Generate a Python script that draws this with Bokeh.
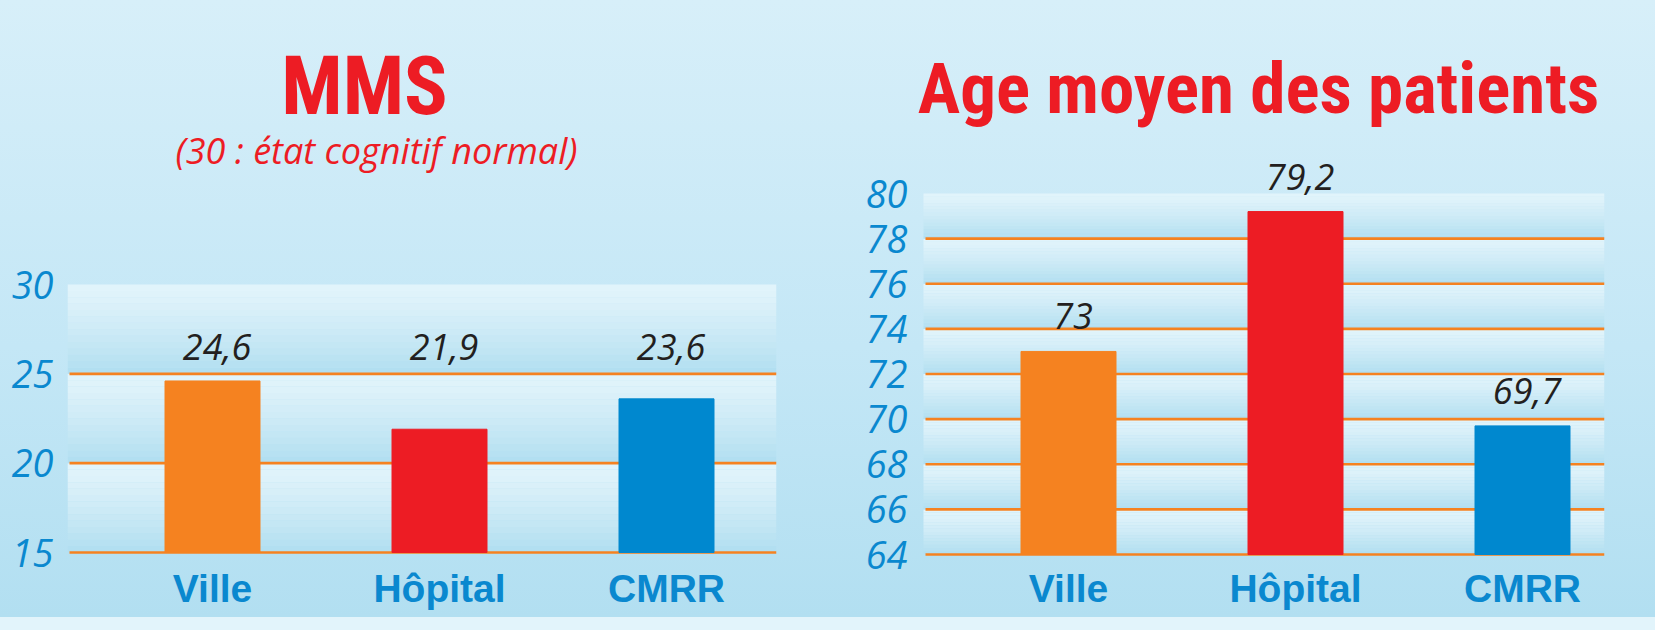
from bokeh.plotting import figure
from bokeh.models import Label, LabelSet, ColumnDataSource, FixedTicker, Range1d
from bokeh.layouts import row
from bokeh.core.properties import value
from bokeh.embed import file_html
from bokeh.resources import INLINE

# ---------------- data ----------------
categories = ["Ville", "Hôpital", "CMRR"]
bar_colors = ["#f58220", "#ed1c24", "#0088cf"]

mms_values = [24.6, 21.9, 23.6]
mms_texts = ["24,6", "21,9", "23,6"]
mms_ticks = [15, 20, 25, 30]

age_values = [73.0, 79.2, 69.7]
age_texts = ["73", "79,2", "69,7"]
age_ticks = [64, 66, 68, 70, 72, 74, 76, 78, 80]

mms_title = "MMS"
mms_subtitle = "(30 : état cognitif normal)"
age_title = "Age moyen des patients"

# ---------------- style ----------------
RED = "#ed1c24"
BLUE = "#0a88cf"
ORANGE = "#f58220"
DARK = "#231f20"
TITLE_FONT = "Roboto Condensed"
ITALIC_FONT = "Open Sans"
CAT_FONT = "Liberation Sans"
BG = ("linear-gradient(to bottom, #d7eff9 0%, #c4e7f6 55%, #b2dff1 97.9%, "
      "#e2f4fb 97.9%, #e2f4fb 100%)")

TOTAL_H = 630
FRAME_BOTTOM = 556          # page y of the bottom of both frames
positions = [i + 1 for i in range(len(categories))]
STEP_PX = 227.0             # pixels between bar centres


def add_bands(p, ticks, x0, x1, n=14):
    top_rgb = (226, 244, 251)
    bot_rgb = (176, 222, 240)
    L, R, T, B, C = [], [], [], [], []
    for lo, hi in zip(ticks[:-1], ticks[1:]):
        for k in range(n):
            t = hi - (hi - lo) * k / n
            b = hi - (hi - lo) * (k + 1) / n
            f = ((k + 0.5) / n) ** 1.3
            c = tuple(int(round(a + (bb - a) * f)) for a, bb in zip(top_rgb, bot_rgb))
            L.append(x0); R.append(x1); T.append(t); B.append(b)
            C.append("#%02x%02x%02x" % c)
    r = p.quad(left=L, right=R, top=T, bottom=B, fill_color=C, line_color=None)
    r.level = "image"


def make_chart(fig_x0, width, frame_left, frame_right, band_left, top_tick_y, bottom_tick_y,
               first_centre_x, values, texts, ticks, label_mode, label_off, y_standoff):
    """All geometry given in page pixels."""
    ppx = STEP_PX
    frame_w = frame_right - frame_left
    x_start = positions[0] - (first_centre_x - frame_left) / ppx
    x_end = x_start + frame_w / ppx
    bx0 = x_start + (band_left - frame_left) / ppx
    ypx = (bottom_tick_y - top_tick_y) / (ticks[-1] - ticks[0])
    y_end = ticks[-1] + top_tick_y / ypx
    y_start = ticks[0] - (FRAME_BOTTOM - bottom_tick_y) / ypx
    p = figure(width=width, height=TOTAL_H, output_backend="svg", toolbar_location=None,
               x_range=Range1d(x_start, x_end), y_range=Range1d(y_start, y_end),
               min_border_left=frame_left - fig_x0,
               min_border_right=fig_x0 + width - frame_right,
               min_border_top=0, min_border_bottom=TOTAL_H - FRAME_BOTTOM)
    p.styles = {"background": BG}
    p.background_fill_alpha = 0
    p.border_fill_alpha = 0
    p.outline_line_color = None
    p.xgrid.visible = False
    p.ygrid.visible = False

    add_bands(p, ticks, bx0, x_end)
    lines = ticks[:-1]
    p.segment(x0=[bx0 + 2 / ppx] * len(lines), x1=[x_end] * len(lines), y0=lines, y1=lines,
              line_color=ORANGE, line_width=2.6)

    p.vbar(x=positions, top=values, bottom=ticks[0], width=95 / ppx, color=bar_colors)

    if label_mode == "row":
        ys = [max(values)] * len(values)
    else:
        ys = list(values)
    src = ColumnDataSource(dict(x=[x + 0.02 for x in positions], y=ys, t=texts))
    p.add_layout(LabelSet(x="x", y="y", text="t", source=src, y_offset=label_off,
                          text_align="center", text_baseline="bottom",
                          text_font=value(ITALIC_FONT), text_font_style="italic",
                          text_font_size="36px", text_color=DARK))

    xa = p.xaxis[0]
    xa.ticker = FixedTicker(ticks=positions)
    xa.major_label_overrides = {pos: c for pos, c in zip(positions, categories)}
    xa.major_label_text_font = CAT_FONT
    xa.major_label_text_font_style = "bold"
    xa.major_label_text_font_size = "39px"
    xa.major_label_text_color = BLUE
    xa.major_label_standoff = 4
    ya = p.yaxis[0]
    ya.ticker = FixedTicker(ticks=ticks)
    ya.major_label_text_font = ITALIC_FONT
    ya.major_label_text_font_style = "italic"
    ya.major_label_text_font_size = "38px"
    ya.major_label_text_color = BLUE
    ya.major_label_standoff = y_standoff
    for ax in (xa, ya):
        ax.axis_line_color = None
        ax.major_tick_line_color = None
        ax.minor_tick_line_color = None

    def dx(page_x):
        return x_start + (page_x - frame_left) / ppx

    def dy(page_y):
        return y_end - page_y / ypx

    return p, dx, dy


p1, dx1, dy1 = make_chart(fig_x0=0, width=840, frame_left=67, frame_right=776, band_left=67,
                          top_tick_y=284, bottom_tick_y=552, first_centre_x=212,
                          values=mms_values, texts=mms_texts, ticks=mms_ticks,
                          label_mode="row", label_off=21, y_standoff=8)
p1.add_layout(Label(x=dx1(364), y=dy1(86), text=mms_title, text_align="center",
                    text_baseline="alphabetic", text_font=TITLE_FONT,
                    text_font_style="bold", text_font_size="81px", text_color=RED))
p1.add_layout(Label(x=dx1(376), y=dy1(150), text=mms_subtitle, text_align="center",
                    text_baseline="alphabetic", text_font=ITALIC_FONT,
                    text_font_style="italic", text_font_size="36px", text_color=RED))

p2, dx2, dy2 = make_chart(fig_x0=840, width=815, frame_left=914, frame_right=1604, band_left=923,
                          top_tick_y=193, bottom_tick_y=554, first_centre_x=1068,
                          values=age_values, texts=age_texts, ticks=age_ticks,
                          label_mode="each", label_off=22, y_standoff=1)
p2.add_layout(Label(x=dx2(1258), y=dy2(88), text=age_title, text_align="center",
                    text_baseline="alphabetic", text_font=TITLE_FONT,
                    text_font_style="bold", text_font_size="71px", text_color=RED))

layout = row(p1, p2)
open("out.html", "w").write(file_html(layout, INLINE))
